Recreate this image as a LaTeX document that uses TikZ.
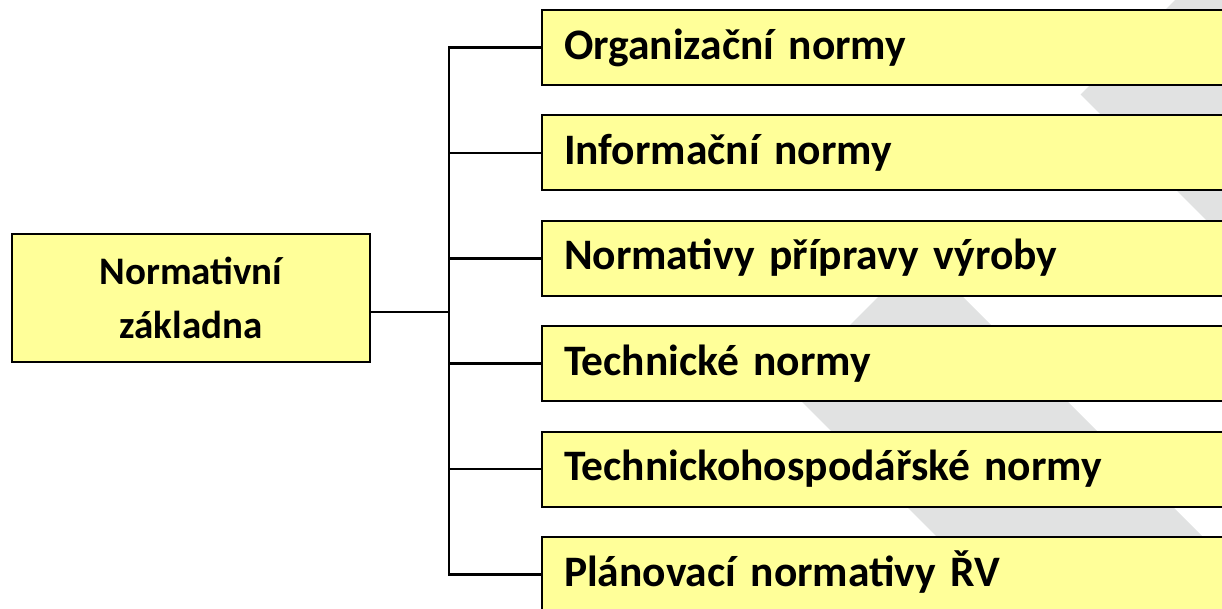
\documentclass[tikz,border=0pt]{standalone}
\usepackage{fontspec}
\setmainfont{Carlito}
\definecolor{boxfill}{RGB}{255,255,153}
\definecolor{bandgray}{RGB}{225,226,226}
\begin{document}
\begin{tikzpicture}[x=1pt,y=-1pt,
  boxbase/.style={draw=black, line width=2pt, fill=boxfill, rectangle},
  itembox/.style={boxbase, anchor=west, minimum height=75pt,
    text width=646pt, inner xsep=22pt, align=left,
    text height=31pt, text depth=8pt,
    font=\fontsize{43.5}{54}\selectfont\bfseries},
  mainbox/.style={boxbase, minimum width=358pt, minimum height=128pt,
    align=center, inner sep=0pt,
    font=\fontsize{39}{54}\selectfont\bfseries},
  conn/.style={draw=black, line width=2.6pt}
]
\useasboundingbox (0,0) rectangle (1222,608);
\clip (0,0) rectangle (1222,608);
% background bands
\fill[bandgray] (1175,0) -- (1080.5,94.5) -- (1260,274) -- (1260,0) -- cycle;
\fill[bandgray] (787.5,387.5) -- (920.5,254.5) -- (1334,668) -- (1068,668) -- cycle;
% nodes
\node[mainbox] (main) at (191,298) {Normativní\\základna};
\node[itembox] (b1) at (541,47.5) {Organizační normy};
\node[itembox] (b2) at (541,152.9) {Informační normy};
\node[itembox] (b3) at (541,258.3) {Normativy přípravy výroby};
\node[itembox] (b4) at (541,363.7) {Technické normy};
\node[itembox] (b5) at (541,469.1) {Technickohospodářské normy};
\node[itembox] (b6) at (541,574.5) {Plánovací normativy ŘV};
\coordinate (trunk) at (449,312);
% connectors
\draw[conn] (main.east |- trunk) -- (trunk);
\foreach \b in {b1,b2,b3,b4,b5,b6}
  \draw[conn] (\b.west) -| (trunk);
\end{tikzpicture}
\end{document}
